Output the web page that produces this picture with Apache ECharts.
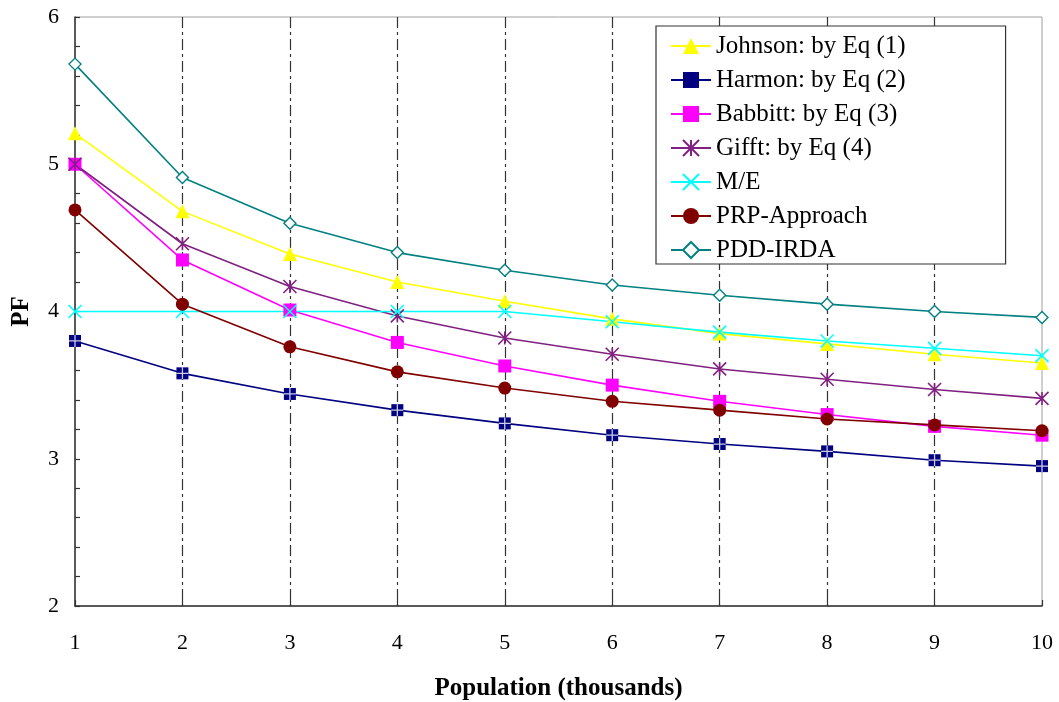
<!DOCTYPE html>
<html>
<head>
<meta charset="utf-8">
<script src="https://cdn.jsdelivr.net/npm/echarts@6/dist/echarts.min.js"></script>
<style>
  html, body { margin: 0; padding: 0; background: #fff; }
  #chart { width: 1059px; height: 702px; }
</style>
</head>
<body>
<div id="chart"></div>
<script>
// Population (thousands) on the x axis
const population = [1, 2, 3, 4, 5, 6, 7, 8, 9, 10];

// Peak factor (PF) by method
const johnson  = [5.21, 4.68, 4.39, 4.20, 4.07, 3.95, 3.85, 3.78, 3.71, 3.65];
const harmon   = [3.80, 3.58, 3.44, 3.33, 3.24, 3.16, 3.10, 3.05, 2.99, 2.95];
const babbitt  = [5.00, 4.35, 4.01, 3.79, 3.63, 3.50, 3.39, 3.30, 3.22, 3.16];
const gifft    = [5.00, 4.46, 4.17, 3.97, 3.82, 3.71, 3.61, 3.54, 3.47, 3.41];
const me       = [4.00, 4.00, 4.00, 4.00, 4.00, 3.93, 3.86, 3.80, 3.75, 3.70];
const prp      = [4.69, 4.05, 3.76, 3.59, 3.48, 3.39, 3.33, 3.27, 3.23, 3.19];
const pddIrda  = [5.68, 4.91, 4.60, 4.40, 4.28, 4.18, 4.11, 4.05, 4.00, 3.96];

const seriesNames = [
  'Johnson: by Eq (1)', 'Harmon: by Eq (2)', 'Babbitt: by Eq (3)',
  'Gifft: by Eq (4)', 'M/E', 'PRP-Approach', 'PDD-IRDA'
];

const FONT = '"Liberation Serif", "Times New Roman", serif';

function pairs(vals) { return population.map((x, i) => [x, vals[i]]); }

function lineSeries(name, vals, color, symbol, size, itemStyle) {
  return {
    name: name,
    type: 'line',
    data: pairs(vals),
    symbol: symbol,
    symbolSize: size,
    showSymbol: true,
    lineStyle: { color: color, width: 1.6 },
    itemStyle: Object.assign({ color: color, opacity: 1 }, itemStyle || {}),
    emphasis: { disabled: true },
    animation: false
  };
}

const STAR = 'path://M5 0 L5 10 M0 0 L10 10 M0 10 L10 0';
const CROSS_X = 'path://M0 0 L10 10 M0 10 L10 0';
const PLUS = 'path://M5 0 L5 10 M0 5 L10 5';

const series = [
  lineSeries(seriesNames[0], johnson, '#FFFF00', 'triangle', 14),
  lineSeries(seriesNames[1], harmon, '#000080', 'rect', 12),
  lineSeries(seriesNames[2], babbitt, '#FF00FF', 'rect', 13),
  lineSeries(seriesNames[3], gifft, '#802080', STAR, 13,
             { color: 'transparent', borderColor: '#802080', borderWidth: 1.6 }),
  lineSeries(seriesNames[4], me, '#00FFFF', CROSS_X, 13,
             { color: 'transparent', borderColor: '#00FFFF', borderWidth: 1.6 }),
  lineSeries(seriesNames[5], prp, '#800000', 'circle', 13),
  lineSeries(seriesNames[6], pddIrda, '#008080', 'diamond', 12,
             { color: '#ffffff', borderColor: '#008080', borderWidth: 1.4 }),
  {
    // white cross drawn over the Harmon squares
    name: 'harmonCross',
    type: 'scatter',
    data: pairs(harmon),
    symbol: PLUS,
    symbolSize: 12,
    itemStyle: { color: 'transparent', borderColor: '#ffffff', borderWidth: 1.3 },
    silent: true,
    z: 5,
    animation: false
  }
];

const chart = echarts.init(document.getElementById('chart'), null, { renderer: 'canvas' });

chart.setOption({
  backgroundColor: '#ffffff',
  animation: false,
  grid: {
    left: 75, right: 17, top: 17, bottom: 96,
    containLabel: false,
    outerBoundsMode: 'none',
    show: true, borderColor: '#a0a0a0', borderWidth: 1, backgroundColor: 'transparent'
  },
  legend: {
    data: seriesNames,
    orient: 'vertical',
    left: 656,
    top: 26,
    padding: [7, 100, 1, 14],
    itemWidth: 40,
    itemHeight: 20,
    itemGap: 8,
    backgroundColor: '#ffffff',
    borderColor: '#333333',
    borderWidth: 1.2,
    borderRadius: 0,
    selectedMode: false,
    textStyle: { fontFamily: FONT, fontSize: 25, color: '#000', lineHeight: 26 }
  },
  xAxis: {
    type: 'value',
    min: 1, max: 10, interval: 1,
    name: 'Population (thousands)',
    nameLocation: 'middle',
    nameGap: 70,
    nameTextStyle: { fontFamily: FONT, fontSize: 25, fontWeight: 'bold', color: '#000' },
    axisLine: { show: true, lineStyle: { color: '#333', width: 1.5 } },
    axisTick: { show: true, inside: true, length: 6, lineStyle: { color: '#333', width: 1.2 } },
    axisLabel: { fontFamily: FONT, fontSize: 22, color: '#000', margin: 26 },
    splitLine: {
      show: true,
      showMinLine: false,
      showMaxLine: false,
      lineStyle: { color: '#333', width: 1.2, type: [11, 4, 3, 4] }
    }
  },
  yAxis: {
    type: 'value',
    min: 2, max: 6, interval: 1,
    name: 'PF',
    nameLocation: 'middle',
    nameRotate: 90,
    nameGap: 41,
    nameTextStyle: { fontFamily: FONT, fontSize: 25, fontWeight: 'bold', color: '#000' },
    axisLine: { show: true, lineStyle: { color: '#333', width: 1.5 } },
    axisTick: { show: true, inside: true, length: 5, lineStyle: { color: '#333', width: 1.2 } },
    minorTick: { show: true, splitNumber: 5, length: 5, lineStyle: { color: '#333', width: 1.2 } },
    axisLabel: { fontFamily: FONT, fontSize: 22, color: '#000', margin: 16 },
    splitLine: { show: false }
  },
  series: series
});
</script>
</body>
</html>
